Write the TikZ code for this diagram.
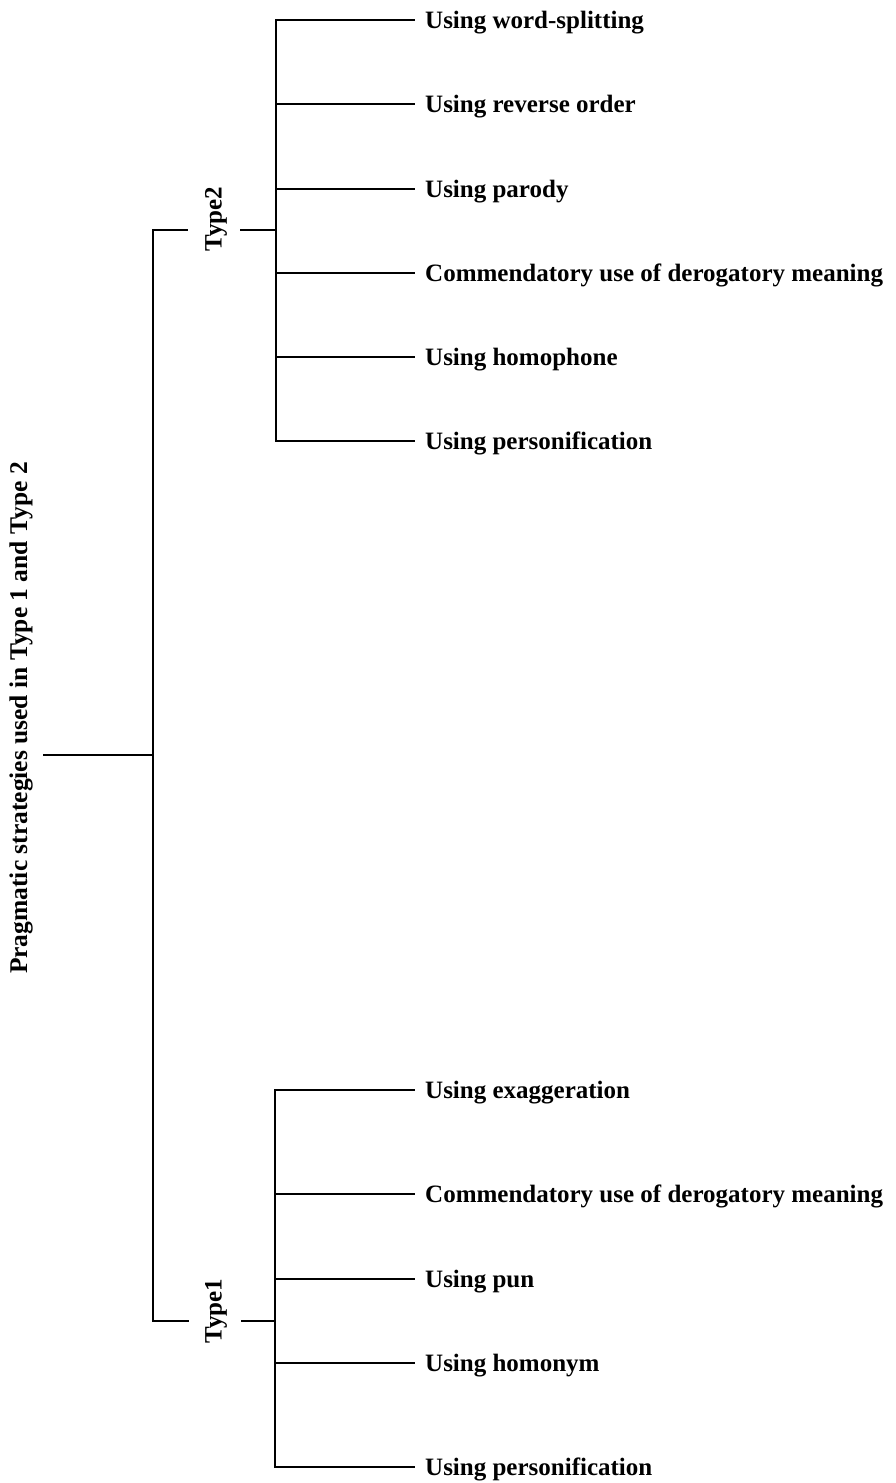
\documentclass[tikz,border=0pt]{standalone}
\usepackage{fontspec}
\newfontfamily\treefont{Liberation Serif Bold}
\begin{document}
\begin{tikzpicture}[x=1pt,y=-1pt,
  line/.style={line width=2.8pt,line cap=rect},
  leaf/.style={anchor=west,inner sep=0pt,text height=16pt,text depth=0pt,
    font=\treefont\fontsize{25}{30}\selectfont},
  typelabel/.style={rotate=90,inner sep=0pt,
    font=\treefont\fontsize{25}{30}\selectfont},
  rootlabel/.style={rotate=90,inner sep=0pt,
    font=\treefont\fontsize{25.5}{30}\selectfont}]
\useasboundingbox (0,0) rectangle (895,1483);

% root
\node[rootlabel] (root) at (21,718) {Pragmatic strategies used in Type 1 and Type 2};
\coordinate (rootend) at (44,755);
\coordinate (mid) at (153,755);
\coordinate (top) at (153,230);
\coordinate (bot) at (153,1321);
\draw[line] (rootend) -- (mid);
\draw[line] (top) -- (bot);

% Type2 branch
\node[typelabel] (t2) at (216,219) {Type2};
\coordinate (t2l) at (187,230);
\coordinate (t2r) at (241,230);
\coordinate (j2) at (276,230);
\draw[line] (top) -- (t2l);
\draw[line] (t2r) -- (j2);

\coordinate (a1) at (276,20);
\coordinate (a2) at (276,104);
\coordinate (a3) at (276,189);
\coordinate (a4) at (276,273);
\coordinate (a5) at (276,357);
\coordinate (a6) at (276,441);
\draw[line] (a1) -- (a6);

\node[leaf] (b1) at (425,20) {Using word-splitting};
\node[leaf] (b2) at (425,104) {Using reverse order};
\node[leaf] (b3) at (425,189) {Using parody};
\node[leaf] (b4) at (425,273) {Commendatory use of derogatory meaning};
\node[leaf] (b5) at (425,357) {Using homophone};
\node[leaf] (b6) at (425,441) {Using personification};

\foreach \i in {1,...,6}
  \draw[line] (a\i) -- ([xshift=-11pt]b\i.west);

% Type1 branch
\node[typelabel] (t1) at (216,1311) {Type1};
\coordinate (t1l) at (188,1321);
\coordinate (t1r) at (242,1321);
\coordinate (j1) at (275,1321);
\draw[line] (bot) -- (t1l);
\draw[line] (t1r) -- (j1);

\coordinate (c1) at (275,1090);
\coordinate (c2) at (275,1194);
\coordinate (c3) at (275,1279);
\coordinate (c4) at (275,1363);
\coordinate (c5) at (275,1467);
\draw[line] (c1) -- (c5);

\node[leaf] (d1) at (425,1090) {Using exaggeration};
\node[leaf] (d2) at (425,1194) {Commendatory use of derogatory meaning};
\node[leaf] (d3) at (425,1279) {Using pun};
\node[leaf] (d4) at (425,1363) {Using homonym};
\node[leaf] (d5) at (425,1467) {Using personification};

\foreach \i in {1,...,5}
  \draw[line] (c\i) -- ([xshift=-11pt]d\i.west);
\end{tikzpicture}
\end{document}
